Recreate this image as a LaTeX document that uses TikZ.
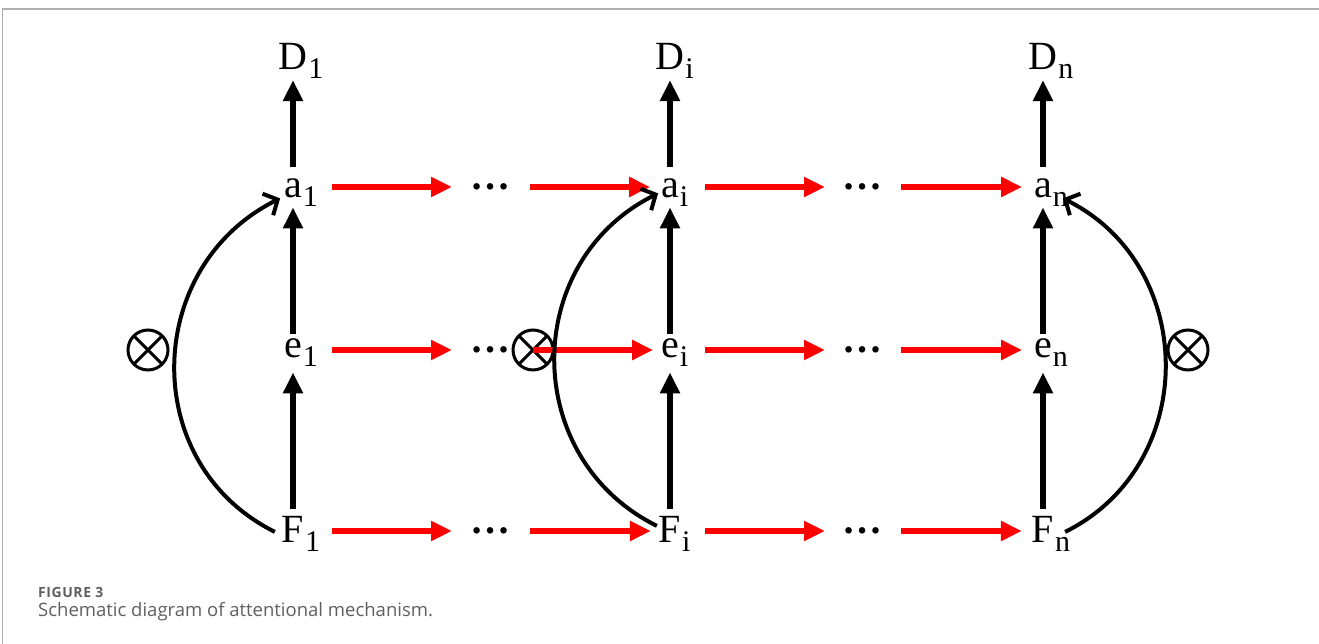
\documentclass[tikz,border=0pt]{standalone}
\usepackage{fontspec}
\setmainfont{Liberation Serif}
\newfontfamily\capfont{Open Sans}
\newfontfamily\capheadfont[LetterSpace=4]{Open Sans}
\usetikzlibrary{arrows.meta,calc}
\definecolor{arrred}{RGB}{255,0,0}
\definecolor{framegray}{RGB}{175,175,175}
\definecolor{capgray}{RGB}{95,95,95}
\newcommand\subs[1]{\rlap{\smash{\raisebox{-9pt}{\hspace{1pt}\fontsize{30}{30}\selectfont #1}}}}
\tikzset{
  lbl/.style={inner sep=0pt, outer sep=0pt, font=\fontsize{40}{46}\selectfont, anchor=base},
  dotsnode/.style={inner sep=0pt, outer sep=0pt, minimum width=34pt, font=\fontsize{40}{46}\selectfont\bfseries},
  blk/.style={line width=6pt, -{Triangle[length=21pt,width=19pt]}},
  rarr/.style={arrred, line width=6pt, -{Triangle[length=21pt,width=19pt]}},
  curv/.style={line width=4pt, -{Straight Barb[length=11pt,width=24pt]}},
  otimesnode/.style={circle, draw, line width=3pt, minimum size=40pt, inner sep=0pt, outer sep=0pt},
  cross/.style={line width=3pt}
}
\begin{document}
\begin{tikzpicture}[x=1pt,y=1pt]
\useasboundingbox (0,0) rectangle (1319,644);
% frame
\draw[framegray, line width=1.2pt] (2.5,0) -- (2.5,635) -- (1319,635);

% labels
\node[lbl] (D1) at (293,574) {D\subs{1}};
\node[lbl] (Di) at (670,574) {D\subs{i}};
\node[lbl] (Dn) at (1043,574) {D\subs{n}};
\node[lbl] (a1) at (293,446) {a\subs{1}};
\node[lbl] (ai) at (670,446) {a\subs{i}};
\node[lbl] (an) at (1043,446) {a\subs{n}};
\node[lbl] (e1) at (293,286) {e\subs{1}};
\node[lbl] (ei) at (670,286) {e\subs{i}};
\node[lbl] (en) at (1043,286) {e\subs{n}};
\node[lbl] (F1) at (293,101) {F\subs{1}};
\node[lbl] (Fi) at (670,101) {F\subs{i}};
\node[lbl] (Fn) at (1043,101) {F\subs{n}};

% dots (row heights)
\node[dotsnode] (da1) at (490,457) {…};
\node[dotsnode] (da2) at (862,457) {…};
\node[dotsnode] (de1) at (490,294) {…};
\node[dotsnode] (de2) at (862,294) {…};
\node[dotsnode] (df1) at (490,113) {…};
\node[dotsnode] (df2) at (862,113) {…};

% otimes
\node[otimesnode] (m1) at (148,294) {};
\node[otimesnode] (m2) at (533,294) {};
\node[otimesnode] (m3) at (1188,294) {};
\foreach \m in {m1,m2,m3}{
  \draw[cross] (\m.north west) -- (\m.south east) (\m.north east) -- (\m.south west);
}

% black vertical arrows
\foreach \c in {1,i,n}{
  \draw[blk] ([yshift=12pt]a\c.north) -- ([yshift=-10pt]D\c.south);
  \draw[blk] ([yshift=5pt]e\c.north) -- ([yshift=-9pt]a\c.south);
  \draw[blk] ([yshift=8pt]F\c.north) -- ([yshift=-14pt]e\c.south);
}

% red arrows, row a
\draw[rarr] ($(a1.east |- da1.west)+(30,0)$) -- ([xshift=-18pt]da1.west);
\draw[rarr] ([xshift=20pt]da1.east) -- ($(ai.west |- da1.east)+(-11,0)$);
\draw[rarr] ($(ai.east |- da2.west)+(26,0)$) -- ([xshift=-17pt]da2.west);
\draw[rarr] ([xshift=19pt]da2.east) -- ($(an.west |- da2.east)+(-12,0)$);
% row e
\draw[rarr] ($(e1.east |- de1.west)+(30,0)$) -- ([xshift=-18pt]de1.west);
\draw[rarr] (m2.center) -- ($(ei.west |- m2.center)+(-8,0)$);
\draw[rarr] ($(ei.east |- de2.west)+(26,0)$) -- ([xshift=-17pt]de2.west);
\draw[rarr] ([xshift=19pt]de2.east) -- ($(en.west |- de2.east)+(-12,0)$);
% row F
\draw[rarr] ($(F1.east |- df1.west)+(28,0)$) -- ([xshift=-18pt]df1.west);
\draw[rarr] ([xshift=20pt]df1.east) -- ($(Fi.west |- df1.east)+(-8,0)$);
\draw[rarr] ($(Fi.east |- df2.west)+(24,0)$) -- ([xshift=-17pt]df2.west);
\draw[rarr] ([xshift=19pt]df2.east) -- ($(Fn.west |- df2.east)+(-10,0)$);

% curved arrows
\draw[curv] ([xshift=-7pt,yshift=-2pt]F1.west) .. controls +(-137,68) and +(-137,-68) .. ([xshift=-4pt]a1.south west);
\draw[curv] ([xshift=-2pt,yshift=4pt]Fi.west) .. controls +(-137,68) and +(-137,-68) .. ([xshift=-3pt,yshift=5pt]ai.south west);
\draw[curv] ([xshift=11pt,yshift=-2pt]Fn.east) .. controls +(135,67) and +(135,-67) .. ([xshift=11pt]an.south east);

% caption
\node[anchor=base west, inner sep=0pt, text=capgray, font=\capheadfont\bfseries\fontsize{14}{16}\selectfont] (cap1) at (38,46) {FIGURE 3};
\node[anchor=base west, inner sep=0pt, text=capgray, font=\capfont\fontsize{18.5}{22}\selectfont] (cap2) at (38,27) {Schematic diagram of attentional mechanism.};
\end{tikzpicture}
\end{document}
